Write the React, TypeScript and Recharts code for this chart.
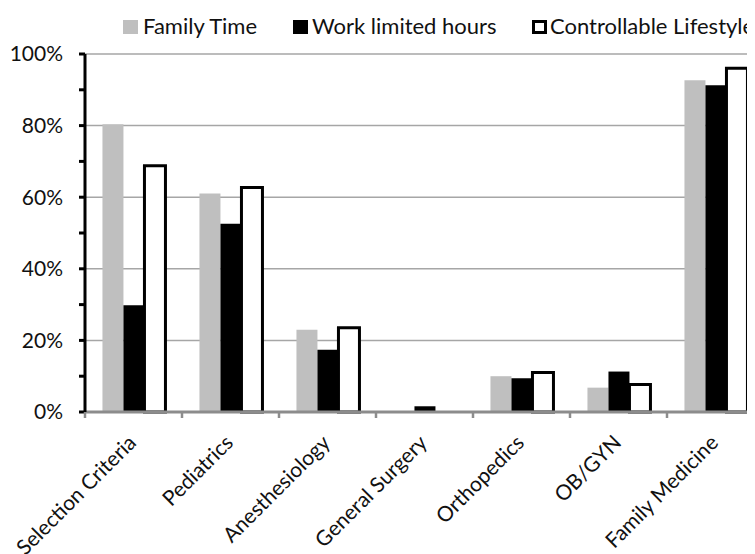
import React from "react";
import { BarChart, Bar, XAxis, YAxis, CartesianGrid, Legend } from "recharts";

const categories = [
  "Selection Criteria",
  "Pediatrics",
  "Anesthesiology",
  "General Surgery",
  "Orthopedics",
  "OB/GYN",
  "Family Medicine",
];

const familyTime = [80.4, 61, 23, 0, 10, 6.8, 92.7];
const workLimitedHours = [29.8, 52.6, 17.4, 1.6, 9.4, 11.3, 91.3];
const controllableLifestyle = [68.8, 62.7, 23.5, 0, 11, 7.7, 96];

const yTicks = [0, 10, 20, 30, 40, 50, 60, 70, 80, 90, 100];
const gridValues = [20, 40, 60, 80, 100];

const SERIES = [
  { key: "family", name: "Family Time", fill: "#bfbfbf", stroke: "none" },
  { key: "work", name: "Work limited hours", fill: "#000000", stroke: "none" },
  { key: "control", name: "Controllable Lifestyle", fill: "#ffffff", stroke: "#000000" },
];

const data = categories.map((c, i) => ({
  name: c,
  family: familyTime[i],
  work: workLimitedHours[i],
  control: controllableLifestyle[i],
}));

const CHART_W = 780;
const CHART_H = 554;
const FONT = "Lato, 'Open Sans', sans-serif";

// legend item positions (icon left, text left)
const LEGEND_POS = [
  { icon: 123, text: 143 },
  { icon: 293, text: 312 },
  { icon: 532, text: 550 },
];

function LegendContent() {
  return (
    <div style={{ position: "relative", width: CHART_W, height: 54 }}>
      {SERIES.map((s, i) => (
        <React.Fragment key={s.key}>
          <div
            style={{
              position: "absolute",
              left: LEGEND_POS[i].icon,
              top: 20,
              width: 15,
              height: 14,
              boxSizing: "border-box",
              background: s.fill,
              border: s.stroke === "none" ? "none" : `3px solid ${s.stroke}`,
            }}
          />
          <div
            style={{
              position: "absolute",
              left: LEGEND_POS[i].text,
              top: 14,
              fontSize: 22,
              lineHeight: "24px",
              color: "#111",
              whiteSpace: "nowrap",
            }}
          >
            {s.name}
          </div>
        </React.Fragment>
      ))}
    </div>
  );
}

function CategoryTick(props: any) {
  const { x, y, payload } = props;
  const half = payload && payload.offset ? payload.offset : 48.5;
  return (
    <g>
      <line x1={x - half} x2={x - half} y1={y} y2={y + 6} stroke="#8c8c8c" strokeWidth={2.5} />
      <text
        x={x + 4}
        y={y + 32}
        textAnchor="end"
        fontSize={21}
        fill="#111"
        transform={`rotate(-45, ${x + 4}, ${y + 32})`}
      >
        {payload.value}
      </text>
    </g>
  );
}

export default function App() {
  return (
    <div style={{ width: 747, height: 546, overflow: "hidden", position: "relative" }}>
      <div style={{ position: "absolute", left: -8, top: -8, fontFamily: FONT, background: "#fff" }}>
        <BarChart
          width={CHART_W}
          height={CHART_H}
          data={data}
          margin={{ top: 0, right: 16, left: 0, bottom: 0 }}
          barCategoryGap="18%"
          barGap={0}
        >
          <CartesianGrid
            vertical={false}
            horizontalValues={gridValues}
            stroke="#a6a6a6"
            strokeWidth={1.5}
          />
          <Legend
            verticalAlign="top"
            content={() => <LegendContent />}
            wrapperStyle={{ top: 0, left: 0, width: CHART_W, height: 54, margin: 0, padding: 0 }}
          />
          <XAxis
            dataKey="name"
            interval={0}
            height={142}
            tickSize={0}
            tickMargin={0}
            tickLine={false}
            axisLine={{ stroke: "#8c8c8c", strokeWidth: 3 }}
            tick={<CategoryTick />}
          />
          <YAxis
            width={85}
            domain={[0, 100]}
            ticks={yTicks}
            interval={0}
            tickSize={6}
            tickMargin={16}
            axisLine={{ stroke: "#000", strokeWidth: 3 }}
            tickLine={{ stroke: "#000", strokeWidth: 3 }}
            tick={{ fontSize: 21, fill: "#111" }}
            tickFormatter={(v: number) => (v % 20 === 0 ? `${v}%` : "")}
          />
          {SERIES.map((s) => (
            <Bar
              key={s.key}
              dataKey={s.key}
              name={s.name}
              fill={s.fill}
              stroke={s.stroke}
              strokeWidth={s.stroke === "none" ? 0 : 3}
              isAnimationActive={false}
            />
          ))}
        </BarChart>
      </div>
    </div>
  );
}
